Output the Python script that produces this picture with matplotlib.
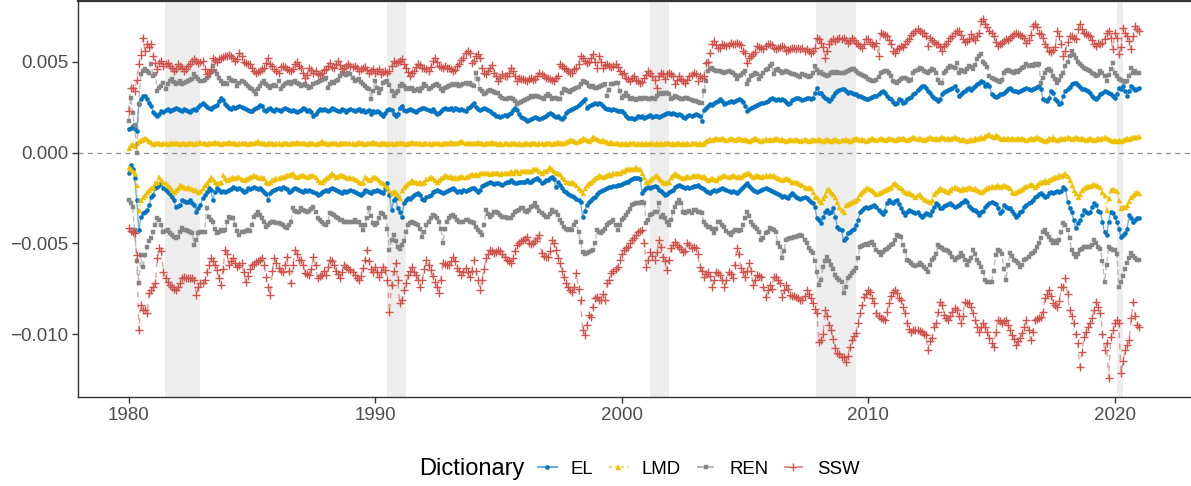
import numpy as np
import matplotlib
matplotlib.use("Agg")
import matplotlib.pyplot as plt
from matplotlib.lines import Line2D
from matplotlib.ticker import FuncFormatter

plt.rcParams['font.family'] = ['Liberation Sans', 'DejaVu Sans']

# ---------------- data (monthly, Jan 1980 .. Jan 2021), units of 1e-5 ----------------
start_year = 1980
scale = 1e-5

el_pos = [
132,137,148,132,121,269,297,313,313,297,275,258,
225,214,203,210,231,225,236,240,231,236,242,247,
240,235,231,242,236,228,225,233,240,236,250,262,
275,262,250,247,240,253,258,264,286,302,290,268,
255,247,242,250,247,250,258,253,245,242,236,231,
231,240,247,253,264,258,236,231,242,247,236,231,
240,236,231,242,247,242,236,231,236,231,225,231,
236,247,242,231,236,225,203,214,231,242,236,242,
236,231,236,247,242,236,231,231,242,236,225,236,
242,236,231,236,242,231,236,225,231,236,214,231,
225,231,225,214,203,220,236,242,236,214,203,214,
247,258,236,231,236,242,236,231,225,236,242,247,
247,242,236,231,242,225,214,220,231,242,247,242,
242,247,236,247,242,236,242,236,231,247,253,264,
275,253,242,236,242,247,242,236,231,220,214,203,
203,198,203,209,203,214,220,236,247,236,214,198,
192,187,176,181,187,192,198,192,187,192,198,203,
214,220,214,203,198,203,192,187,198,220,231,236,
242,247,253,264,275,286,297,247,258,264,269,275,
269,275,269,258,247,242,242,236,242,236,231,231,
231,220,203,192,192,192,187,192,203,198,203,192,
198,203,209,198,203,203,198,203,209,214,220,220,
214,220,214,209,214,209,198,192,203,209,203,209,
214,209,203,176,236,247,258,269,264,275,280,286,
297,286,269,275,280,286,280,286,292,297,290,280,
258,231,240,247,253,258,264,269,275,275,280,286,
297,302,297,290,297,292,297,290,280,269,275,290,
297,302,302,297,290,297,302,302,297,302,330,357,
330,330,313,302,297,286,297,313,330,341,346,352,
352,341,330,335,330,324,320,313,313,308,302,297,
297,302,308,313,313,324,335,341,330,313,302,297,
280,269,275,297,290,275,280,297,302,308,324,330,
346,357,368,368,357,341,330,313,302,297,286,297,
324,335,341,346,352,357,368,346,313,324,335,341,
352,357,346,357,368,379,385,396,390,368,379,368,
324,313,308,313,320,324,330,341,352,357,346,341,
341,335,341,346,352,357,352,346,352,357,363,368,
352,297,291,286,302,341,330,297,286,269,275,313,
341,352,363,379,385,385,374,363,352,352,346,341,
330,313,302,297,308,320,330,341,335,330,324,313,
302,324,357,352,368,341,313,341,368,357,346,352,
357]

lmd_pos = [
27,44,49,38,55,66,71,77,82,77,66,60,
49,55,52,55,49,52,55,49,52,55,55,52,
52,49,55,52,49,55,52,55,49,52,55,60,
55,52,49,55,52,55,60,55,52,49,55,52,
55,60,55,52,55,49,55,52,55,52,49,55,
52,55,60,66,55,52,55,49,52,55,52,49,
55,52,49,52,55,52,49,55,52,55,60,55,
52,55,52,49,52,55,52,49,52,55,66,55,
52,49,55,52,55,52,49,52,55,52,55,52,
55,52,49,55,60,55,52,49,55,52,55,60,
55,52,49,52,55,52,49,55,52,49,52,55,
52,55,52,49,52,55,60,55,52,55,52,49,
52,55,52,49,55,52,55,52,49,52,55,52,
55,60,55,52,55,60,66,60,55,52,55,52,
55,52,60,55,52,49,55,52,55,60,55,52,
49,52,49,55,52,49,52,55,52,49,52,49,
49,52,55,49,52,55,52,49,52,55,49,52,
55,52,49,52,55,60,55,52,55,60,66,71,
71,66,60,66,71,82,77,71,66,77,88,82,
77,71,66,71,66,60,55,60,55,52,55,49,
52,49,52,49,52,55,52,49,52,49,52,49,
52,49,52,55,49,52,49,52,49,52,55,52,
49,52,49,52,55,49,52,49,52,49,52,55,
52,49,52,49,55,66,71,77,71,77,82,77,
77,82,77,71,77,82,77,71,77,82,77,71,
77,71,66,71,77,82,77,71,66,71,77,71,
77,71,77,82,77,71,77,71,66,71,77,71,
71,77,71,66,71,77,71,66,71,77,71,71,
77,71,66,71,77,71,66,71,77,71,66,71,
71,77,71,66,71,77,82,77,71,77,71,66,
71,77,82,77,71,77,82,77,71,77,82,77,
77,71,77,82,77,82,77,71,77,82,88,82,
77,82,77,71,77,82,88,82,77,82,77,82,
88,82,77,82,77,82,88,82,77,71,77,71,
66,71,77,71,82,77,82,88,82,93,99,104,
93,88,99,93,82,77,82,77,82,77,82,77,
77,82,77,82,77,71,77,82,77,82,88,82,
77,71,66,71,82,77,88,77,71,77,82,77,
82,88,82,77,82,88,82,77,82,77,71,77,
82,77,71,77,82,77,82,88,82,77,71,66,
71,66,71,66,71,77,82,77,82,88,88,88,
93]

ren_pos = [
176,302,220,150,0,269,434,450,462,450,440,489,
420,434,341,357,368,385,352,380,396,407,390,379,
385,396,379,385,390,396,401,407,434,418,407,396,
396,401,412,423,450,478,450,434,412,396,379,385,
379,412,401,396,396,368,385,396,390,379,368,357,
352,341,324,352,368,385,396,379,368,357,368,374,
368,396,352,368,379,385,390,379,390,396,385,379,
368,374,379,368,357,363,379,385,390,396,401,407,
412,357,379,390,385,396,401,423,440,434,429,440,
434,412,396,401,407,390,379,368,357,352,297,341,
396,357,330,352,385,390,396,374,341,313,330,341,
368,379,368,352,357,352,357,341,346,352,341,357,
379,368,352,357,368,374,379,368,352,341,357,363,
368,374,379,374,379,368,374,379,385,379,385,374,
368,440,407,352,341,324,330,341,346,341,335,330,
330,313,302,297,297,302,302,297,286,269,275,280,
286,291,297,302,313,308,313,313,308,302,297,313,
324,313,297,302,302,297,297,330,352,346,341,335,
346,352,357,363,379,396,390,385,368,363,368,357,
357,363,368,374,379,313,346,379,379,385,385,341,
302,313,330,313,297,302,297,291,297,302,297,302,
302,297,297,302,297,313,324,330,324,330,330,324,
297,302,313,308,302,297,297,302,302,297,291,286,
286,280,275,275,341,396,450,462,467,456,450,450,
450,445,440,445,450,445,440,430,407,423,430,440,
450,379,401,423,430,440,434,407,423,440,456,462,
478,489,434,456,462,450,440,445,450,445,440,434,
434,430,423,418,434,430,423,418,423,440,478,456,
440,445,434,430,423,430,440,445,440,445,440,440,
440,445,450,456,462,462,450,440,434,428,423,418,
407,401,396,396,401,418,440,445,450,450,440,423,
396,390,385,396,407,412,412,407,396,401,440,450,
456,467,462,450,445,440,450,462,456,440,401,385,
385,440,450,467,478,470,467,495,440,456,450,445,
462,478,470,462,480,517,530,544,500,489,470,423,
412,407,401,396,390,401,440,450,456,450,445,440,
450,445,456,467,472,489,478,483,478,489,483,489,
385,412,440,456,462,450,420,407,385,400,423,440,
478,500,530,560,540,520,500,489,478,467,462,456,
450,440,434,423,430,450,440,420,396,430,460,495,
440,420,407,401,396,390,396,423,467,440,450,440,
440]

ssw_pos = [
231,357,357,341,400,489,540,632,560,599,580,599,
533,495,462,495,506,478,489,495,478,467,450,462,
489,478,467,450,462,478,489,506,517,506,495,500,
506,462,434,440,456,522,511,500,517,522,528,533,
533,540,533,522,506,517,549,533,500,495,489,489,
467,450,440,445,450,462,467,495,522,489,478,462,
450,440,470,478,470,462,456,450,462,489,500,478,
467,440,412,430,467,456,440,450,434,430,440,456,
462,478,495,470,467,489,506,480,462,467,478,489,
478,470,478,467,450,462,467,470,456,440,450,462,
440,450,462,434,445,450,440,450,478,506,495,500,
506,517,490,467,445,423,440,450,470,489,480,467,
467,460,450,470,506,522,500,478,470,467,478,467,
467,460,450,455,478,489,510,522,549,560,550,495,
506,533,544,522,467,440,434,450,467,480,440,420,
396,410,434,420,423,440,467,450,423,396,410,407,
407,400,396,407,412,400,407,423,440,434,420,412,
412,407,400,396,410,420,489,478,467,460,450,440,
440,460,467,489,533,520,506,495,500,520,544,500,
467,533,500,467,480,489,478,470,478,489,470,450,
434,440,412,407,396,410,423,400,396,385,390,412,
430,450,440,423,400,357,423,440,434,407,434,440,
434,423,379,400,423,407,396,385,400,420,430,440,
434,396,423,410,423,495,500,549,600,615,590,577,
577,599,590,588,595,604,600,599,604,599,590,560,
549,495,522,530,544,555,588,580,577,571,588,599,
599,590,577,571,577,582,588,580,560,565,571,577,
577,571,577,571,577,560,571,560,549,560,577,632,
626,604,580,522,560,599,615,626,615,626,632,626,
632,620,604,615,632,620,604,599,588,577,599,626,
626,610,599,588,604,533,659,654,650,640,620,599,
560,549,570,577,588,580,599,615,626,650,659,670,
681,670,660,659,640,588,632,620,610,599,599,580,
560,588,599,615,630,643,660,670,670,650,626,610,
615,626,654,630,620,643,660,725,736,710,690,670,
659,640,610,588,600,604,615,626,620,632,643,654,
659,655,650,640,632,604,620,650,698,709,690,659,
654,630,599,580,560,555,565,580,670,640,600,533,
560,610,643,640,632,626,680,709,680,659,654,650,
640,620,599,588,604,600,604,626,659,670,630,571,
659,630,544,580,687,660,643,615,571,640,698,680,
670]

el_neg = [
-110,-71,-88,-143,-264,-429,-357,-335,-330,-319,-291,-247,
-236,-198,-192,-181,-170,-198,-209,-220,-231,-247,-264,-302,
-297,-291,-264,-269,-275,-270,-264,-280,-291,-330,-308,-291,
-253,-236,-220,-198,-209,-264,-220,-198,-209,-220,-214,-220,
-214,-209,-203,-192,-198,-203,-198,-209,-220,-214,-198,-203,
-198,-192,-198,-203,-198,-209,-220,-231,-264,-225,-214,-209,
-203,-198,-203,-192,-198,-203,-220,-214,-203,-198,-203,-209,
-214,-220,-209,-214,-209,-214,-220,-225,-236,-231,-220,-214,
-209,-214,-203,-198,-203,-209,-214,-220,-225,-214,-220,-214,
-209,-214,-220,-225,-231,-236,-225,-209,-214,-220,-225,-214,
-214,-209,-214,-220,-225,-203,-170,-236,-319,-264,-253,-308,
-330,-357,-280,-264,-253,-258,-247,-236,-231,-225,-236,-258,
-264,-247,-242,-236,-220,-214,-209,-214,-220,-225,-220,-214,
-209,-203,-198,-209,-220,-214,-220,-209,-214,-209,-203,-198,
-198,-209,-220,-209,-187,-181,-176,-170,-165,-170,-176,-170,
-170,-176,-181,-170,-165,-160,-154,-165,-170,-170,-165,-165,
-165,-160,-154,-160,-165,-154,-148,-143,-154,-170,-160,-154,
-154,-143,-137,-148,-192,-165,-181,-198,-214,-220,-231,-236,
-240,-247,-258,-264,-275,-357,-320,-291,-275,-264,-253,-247,
-231,-220,-214,-209,-203,-198,-192,-192,-187,-187,-181,-181,
-176,-170,-165,-160,-154,-148,-143,-143,-143,-148,-225,-209,
-198,-192,-198,-192,-187,-192,-209,-214,-225,-236,-231,-220,
-214,-209,-192,-187,-181,-187,-192,-198,-192,-198,-192,-187,
-187,-181,-192,-198,-203,-214,-220,-225,-214,-209,-214,-209,
-203,-198,-203,-209,-214,-220,-214,-220,-225,-214,-203,-192,
-181,-170,-187,-198,-209,-214,-220,-214,-209,-203,-198,-203,
-209,-214,-220,-225,-230,-236,-247,-240,-247,-253,-236,-225,
-236,-247,-253,-258,-253,-247,-253,-264,-275,-280,-300,-360,
-374,-390,-357,-330,-319,-335,-330,-308,-357,-412,-420,-429,
-484,-470,-445,-440,-429,-420,-401,-374,-330,-319,-308,-302,
-308,-302,-297,-291,-302,-319,-330,-341,-320,-280,-264,-275,
-280,-269,-264,-286,-308,-330,-346,-330,-319,-324,-330,-335,
-330,-346,-357,-346,-335,-340,-346,-320,-300,-280,-291,-308,
-308,-297,-291,-286,-280,-291,-302,-297,-291,-280,-270,-264,
-275,-297,-308,-314,-319,-330,-346,-330,-320,-302,-291,-280,
-275,-280,-286,-308,-335,-320,-291,-300,-308,-303,-320,-340,
-357,-346,-330,-320,-300,-291,-280,-275,-264,-247,-240,-230,
-225,-236,-247,-240,-225,-220,-225,-220,-214,-220,-214,-192,
-200,-270,-308,-330,-374,-418,-390,-374,-346,-319,-330,-335,
-330,-300,-280,-291,-320,-330,-380,-440,-456,-380,-330,-335,
-357,-380,-420,-467,-455,-445,-420,-346,-360,-385,-374,-363,
-363]

lmd_neg = [
-82,-88,-99,-115,-181,-319,-264,-247,-236,-220,-209,-198,
-190,-170,-160,-137,-154,-165,-170,-181,-192,-209,-220,-209,
-198,-181,-187,-192,-198,-192,-198,-203,-209,-209,-220,-214,
-198,-181,-170,-154,-137,-148,-165,-170,-170,-160,-126,-143,
-154,-148,-143,-137,-143,-137,-137,-148,-154,-148,-143,-137,
-132,-126,-132,-137,-143,-137,-143,-160,-170,-165,-154,-148,
-143,-143,-137,-137,-132,-126,-126,-120,-115,-132,-137,-132,
-126,-126,-132,-137,-132,-126,-126,-137,-154,-160,-165,-154,
-143,-137,-126,-115,-126,-137,-132,-126,-126,-132,-137,-143,
-137,-143,-148,-154,-165,-170,-160,-137,-143,-154,-148,-137,
-137,-143,-154,-165,-170,-181,-192,-209,-225,-214,-220,-236,
-253,-209,-192,-181,-170,-160,-154,-160,-165,-170,-165,-170,
-160,-148,-143,-137,-143,-154,-165,-154,-143,-137,-126,-132,
-137,-132,-143,-137,-143,-137,-132,-137,-137,-132,-126,-121,
-126,-121,-126,-115,-110,-115,-110,-115,-121,-115,-110,-115,
-110,-121,-115,-110,-115,-110,-104,-110,-99,-104,-110,-104,
-104,-99,-99,-104,-99,-93,-88,-93,-104,-110,-99,-104,
-93,-82,-93,-104,-110,-115,-121,-137,-148,-160,-165,-170,
-165,-170,-181,-198,-209,-225,-198,-181,-170,-165,-154,-143,
-137,-126,-132,-137,-132,-126,-121,-126,-115,-110,-115,-110,
-104,-99,-93,-88,-93,-88,-88,-82,-88,-88,-115,-137,
-165,-160,-154,-143,-132,-126,-143,-154,-160,-170,-165,-160,
-137,-126,-115,-126,-132,-137,-143,-137,-132,-137,-132,-126,
-132,-126,-132,-137,-132,-143,-154,-148,-143,-148,-154,-143,
-137,-132,-126,-132,-137,-132,-126,-132,-137,-132,-137,-126,
-121,-115,-110,-126,-137,-132,-126,-132,-137,-132,-126,-132,
-126,-132,-126,-137,-143,-148,-154,-148,-143,-148,-154,-160,
-165,-165,-170,-176,-181,-192,-198,-192,-198,-220,-247,-247,
-264,-275,-253,-236,-209,-203,-220,-231,-247,-275,-302,-319,
-330,-291,-286,-280,-275,-269,-264,-253,-231,-220,-209,-198,
-198,-203,-209,-220,-231,-225,-220,-214,-209,-203,-198,-192,
-176,-170,-181,-192,-198,-209,-220,-225,-220,-231,-236,-247,
-236,-231,-247,-258,-264,-269,-275,-264,-231,-220,-209,-198,
-203,-209,-214,-220,-209,-198,-192,-198,-203,-209,-198,-203,
-198,-192,-198,-203,-198,-209,-214,-220,-214,-203,-198,-192,
-187,-192,-187,-181,-192,-187,-181,-187,-192,-198,-220,-225,
-220,-214,-209,-203,-192,-187,-181,-176,-181,-192,-181,-170,
-165,-160,-154,-160,-154,-148,-143,-137,-137,-126,-132,-126,
-115,-132,-154,-181,-209,-225,-247,-231,-209,-198,-192,-187,
-187,-181,-176,-181,-187,-192,-220,-236,-319,-253,-209,-203,
-209,-214,-264,-308,-302,-302,-291,-269,-247,-236,-225,-220,
-225]

ren_neg = [
-264,-280,-300,-429,-600,-720,-566,-632,-566,-522,-490,-473,
-440,-400,-363,-374,-400,-440,-435,-429,-445,-455,-465,-473,
-467,-440,-418,-425,-429,-432,-440,-445,-511,-480,-445,-440,
-440,-440,-308,-357,-370,-385,-420,-445,-440,-429,-430,-429,
-380,-357,-360,-363,-400,-430,-456,-440,-440,-435,-429,-430,
-400,-357,-345,-330,-345,-363,-380,-412,-400,-390,-385,-380,
-390,-390,-395,-401,-410,-418,-400,-380,-308,-320,-330,-325,
-308,-315,-320,-330,-320,-310,-302,-330,-360,-374,-385,-395,
-401,-380,-335,-340,-346,-355,-363,-370,-374,-380,-385,-380,
-385,-380,-374,-380,-385,-400,-429,-400,-360,-308,-350,-390,
-401,-390,-360,-335,-340,-357,-420,-539,-480,-456,-490,-522,
-530,-511,-490,-440,-400,-390,-385,-390,-395,-401,-420,-467,
-440,-401,-380,-360,-346,-350,-363,-380,-420,-500,-420,-380,
-363,-350,-346,-355,-374,-380,-385,-380,-374,-374,-380,-385,
-390,-410,-429,-440,-456,-400,-319,-340,-357,-345,-330,-330,
-335,-345,-357,-357,-360,-363,-363,-345,-330,-320,-315,-308,
-308,-320,-330,-315,-302,-295,-280,-300,-320,-335,-345,-357,
-357,-340,-319,-325,-330,-345,-374,-390,-412,-420,-429,-420,
-429,-400,-385,-440,-495,-550,-560,-555,-550,-545,-539,-500,
-429,-440,-445,-430,-420,-401,-390,-380,-374,-400,-429,-400,
-374,-360,-346,-330,-310,-291,-285,-280,-278,-276,-275,-280,
-390,-370,-346,-340,-330,-330,-280,-357,-346,-360,-380,-401,
-370,-330,-300,-280,-264,-280,-330,-335,-330,-320,-335,-319,
-319,-325,-330,-335,-385,-400,-412,-412,-420,-445,-420,-385,
-385,-400,-412,-430,-445,-456,-440,-429,-429,-430,-429,-400,
-360,-330,-350,-385,-400,-412,-420,-440,-484,-470,-445,-440,
-418,-420,-429,-440,-500,-522,-583,-540,-484,-478,-473,-470,
-467,-465,-460,-456,-460,-480,-500,-528,-540,-555,-600,-660,
-731,-700,-632,-600,-577,-600,-621,-640,-676,-690,-700,-714,
-775,-740,-692,-680,-665,-650,-637,-580,-522,-515,-511,-505,
-511,-500,-495,-510,-539,-550,-566,-550,-539,-530,-520,-511,
-505,-480,-456,-460,-467,-511,-540,-593,-600,-610,-621,-625,
-621,-610,-620,-632,-640,-659,-620,-593,-580,-560,-511,-520,
-528,-535,-539,-545,-555,-577,-590,-580,-577,-555,-570,-590,
-621,-600,-580,-539,-560,-593,-610,-632,-660,-700,-714,-714,
-714,-650,-566,-539,-545,-560,-640,-703,-620,-555,-570,-593,
-600,-610,-632,-620,-593,-585,-577,-560,-555,-545,-522,-500,
-470,-440,-429,-450,-467,-480,-500,-490,-500,-480,-440,-390,
-400,-429,-470,-539,-560,-577,-560,-539,-530,-522,-522,-520,
-522,-510,-484,-500,-522,-530,-600,-714,-620,-522,-530,-539,
-539,-560,-742,-714,-680,-640,-610,-580,-555,-570,-580,-593,
-593]

ssw_neg = [
-418,-430,-440,-445,-566,-978,-841,-868,-868,-885,-775,-758,
-742,-720,-583,-528,-540,-659,-690,-714,-730,-742,-750,-758,
-742,-720,-692,-687,-692,-690,-692,-692,-700,-786,-740,-720,
-720,-703,-660,-621,-583,-600,-621,-648,-690,-731,-640,-539,
-560,-621,-600,-583,-610,-632,-620,-610,-660,-714,-680,-640,
-621,-612,-604,-600,-590,-583,-620,-687,-740,-786,-650,-583,
-610,-637,-650,-659,-620,-577,-650,-720,-620,-539,-560,-593,
-593,-620,-665,-670,-676,-640,-577,-620,-692,-680,-676,-650,
-676,-630,-593,-600,-621,-650,-670,-692,-660,-621,-630,-640,
-648,-660,-676,-690,-703,-680,-637,-590,-539,-600,-640,-660,
-632,-660,-687,-660,-632,-648,-700,-879,-731,-650,-610,-700,
-830,-813,-760,-720,-676,-650,-632,-660,-676,-700,-742,-700,
-640,-593,-620,-648,-680,-714,-740,-775,-700,-610,-615,-621,
-621,-600,-577,-600,-637,-650,-676,-660,-637,-660,-687,-650,
-593,-650,-700,-758,-700,-640,-583,-560,-539,-545,-555,-550,
-539,-545,-560,-577,-590,-600,-610,-580,-540,-511,-500,-490,
-484,-475,-467,-500,-505,-500,-490,-470,-456,-555,-570,-577,
-577,-540,-484,-500,-539,-580,-610,-650,-687,-720,-742,-760,
-769,-740,-665,-750,-813,-978,-1006,-950,-896,-907,-850,-800,
-797,-810,-813,-780,-813,-720,-700,-665,-650,-640,-632,-590,
-560,-539,-528,-520,-500,-484,-470,-456,-440,-435,-429,-500,
-632,-590,-550,-570,-593,-550,-484,-520,-577,-600,-648,-590,
-528,-510,-495,-510,-522,-530,-550,-540,-500,-510,-528,-520,
-528,-560,-632,-650,-687,-670,-659,-680,-742,-700,-659,-665,
-676,-700,-742,-700,-659,-670,-692,-620,-528,-560,-637,-660,
-687,-650,-610,-650,-731,-700,-676,-680,-687,-740,-797,-760,
-731,-750,-687,-687,-700,-720,-797,-760,-731,-750,-786,-790,
-790,-797,-800,-813,-813,-790,-758,-780,-800,-830,-860,-885,
-1044,-1033,-1000,-868,-900,-951,-978,-1030,-1077,-1104,-1110,-1126,
-1126,-1154,-1120,-1072,-1033,-1010,-995,-940,-885,-840,-797,-780,
-758,-770,-802,-830,-885,-900,-912,-915,-923,-880,-830,-790,
-770,-760,-775,-800,-813,-850,-885,-940,-970,-989,-980,-978,
-978,-985,-989,-1000,-1006,-1088,-1040,-1022,-960,-940,-880,-824,
-840,-896,-910,-923,-900,-880,-857,-870,-900,-940,-900,-824,
-830,-830,-850,-885,-920,-960,-989,-960,-940,-960,-990,-1022,
-1050,-1072,-990,-923,-930,-940,-930,-923,-950,-980,-1006,-1030,
-1061,-1040,-1020,-995,-960,-923,-980,-1033,-990,-923,-915,-910,
-907,-880,-802,-780,-758,-790,-830,-840,-852,-820,-742,-742,
-692,-780,-868,-900,-940,-1000,-1050,-1181,-1100,-1017,-990,-962,
-940,-912,-870,-824,-850,-885,-1000,-1088,-1050,-1242,-1017,-980,
-940,-920,-940,-1214,-1150,-1088,-1060,-1033,-912,-824,-900,-951,
-962]

dictionaries = ["EL", "LMD", "REN", "SSW"]
colors = ["#0073C2", "#EFC000", "#868686", "#CD534C"]
series_pos = [el_pos, lmd_pos, ren_pos, ssw_pos]
series_neg = [el_neg, lmd_neg, ren_neg, ssw_neg]

# NBER recessions (start, end) as decimal years
recessions = [(1981 + 5.5/12, 1982 + 11/12), (1990 + 6/12, 1991 + 3/12),
              (2001 + 2/12, 2001 + 11/12), (2007 + 10.5/12, 2009 + 6/12),
              (2020 + 1/12, 2020 + 4/12)]

x_ticks = [1980, 1990, 2000, 2010, 2020]
y_ticks = [-0.010, -0.005, 0.000, 0.005]

# ---------------- figure ----------------
W, H = 1191, 486
fig = plt.figure(figsize=(W / 100, H / 100), dpi=100)
ax = fig.add_axes([78 / W, 1 - 397 / H, 1112 / W, 396 / H])

for s, e in recessions:
    ax.axvspan(s, e, color="#EDEDED", lw=0, zorder=0)

ax.axhline(0, color="#8C8C8C", lw=0.9, ls=(0, (4, 3.5)), zorder=1)

linestyles = ["-", (0, (1.8, 1.8)), (0, (4, 2)), (0, (4, 4))]
markers = ["o", "^", "s", "+"]
msizes = [3.0, 3.6, 3.4, 5.2]
mews = [0.3, 0.3, 0.3, 1.0]

def rgba(hexc, a):
    h = hexc.lstrip('#')
    return tuple(int(h[i:i + 2], 16) / 255 for i in (0, 2, 4)) + (a,)

handles = []
for i, name in enumerate(dictionaries):
    for vals in (series_pos[i], series_neg[i]):
        v = np.array(vals, dtype=float) * scale
        t = start_year + np.arange(len(v)) / 12.0
        ax.plot(t, v, color=rgba(colors[i], 0.55), lw=1.0, ls=linestyles[i],
                marker=markers[i], ms=msizes[i], mfc=colors[i], mec=colors[i],
                mew=mews[i], zorder=2 + i)
    handles.append(Line2D([], [], color=rgba(colors[i], 0.7), lw=1.2, ls=linestyles[i],
                          marker=markers[i], ms=msizes[i], mfc=colors[i], mec=colors[i],
                          mew=mews[i]))

ax.set_xlim(1977.95, 2023.05)
ax.set_ylim(-0.01347, 0.00835)
ax.set_xticks(x_ticks)
ax.set_yticks(y_ticks)
ax.yaxis.set_major_formatter(FuncFormatter(lambda v, p: f"{v:.3f}".replace("-", "\u2212")))

ax.spines["right"].set_visible(False)
for side in ["left", "bottom"]:
    ax.spines[side].set_color("#333333")
    ax.spines[side].set_linewidth(1.0)
ax.spines["top"].set_color("#333333")
ax.spines["top"].set_linewidth(1.6)

ax.tick_params(axis="both", colors="#333333", length=4, width=1.0,
               labelsize=13.5, labelcolor="#4D4D4D", pad=3)

fig.text(419 / W, 1 - 469 / H, "Dictionary", fontsize=17, va="center", ha="left",
         color="black")
fig.legend(handles, dictionaries, ncol=4, loc="center left",
           bbox_to_anchor=(538 / W, 1 - 469 / H), frameon=False, fontsize=13.4,
           handlelength=1.0, handletextpad=0.75, columnspacing=0.85,
           borderpad=0, borderaxespad=0)

fig.savefig("out.png", dpi=100)
